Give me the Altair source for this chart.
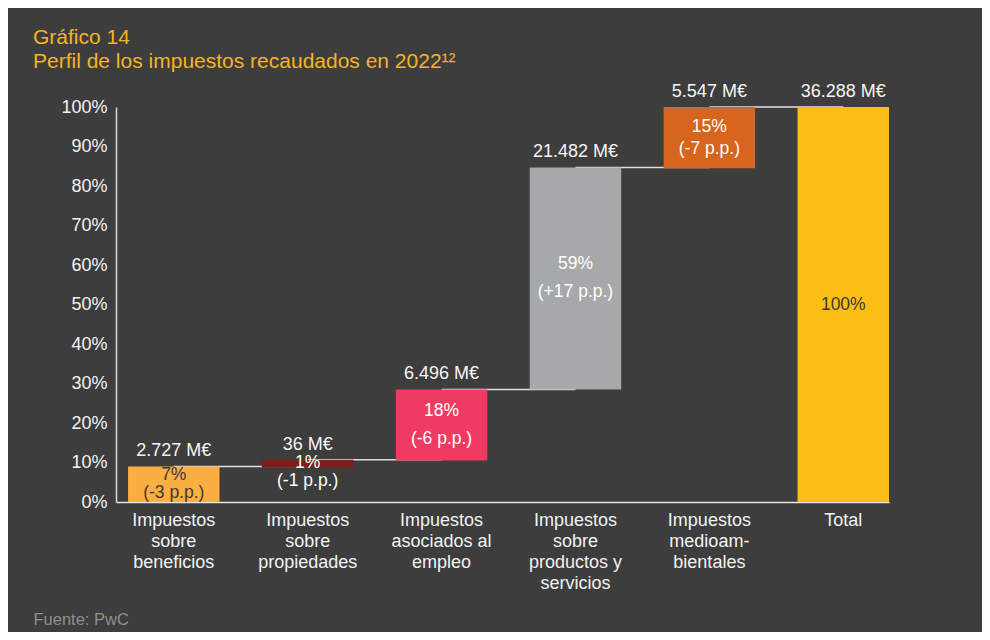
import altair as alt
import pandas as pd

# ---- data ----
categories = [
    "Impuestos|sobre|beneficios",
    "Impuestos|sobre|propiedades",
    "Impuestos|asociados al|empleo",
    "Impuestos|sobre|productos y|servicios",
    "Impuestos|medioam-|bientales",
    "Total",
]
bar_start = [0, 8.7, 10.5, 28.5, 84.5, 0]
bar_end = [9.0, 10.7, 28.5, 84.7, 100, 100]
amounts = ["2.727 M€", "36 M€", "6.496 M€", "21.482 M€", "5.547 M€", "36.288 M€"]
shares = ["7%", "1%", "18%", "59%", "15%", "100%"]
changes = ["(-3 p.p.)", "(-1 p.p.)", "(-6 p.p.)", "(+17 p.p.)", "(-7  p.p.)", ""]
y_ticks = [0, 10, 20, 30, 40, 50, 60, 70, 80, 90, 100]

palette = ["#fbae42", "#7e1f1b", "#ef3b62", "#a7a8aa", "#d8651d", "#fdbe16"]
BG = "#3d3d3d"
FONT = "Liberation Sans"
PLOT_H = 395
PX_PER_UNIT = PLOT_H / 100

df = pd.DataFrame({
    "cat": categories,
    "start": bar_start,
    "end": bar_end,
    "amount": amounts,
    "share": shares,
    "change": changes,
})

conn = pd.DataFrame({
    "cat": categories[:-1],
    "next": categories[1:],
    "level": bar_end[:-1],
})

xsc = alt.Scale(domain=categories, paddingInner=0.317, paddingOuter=0.045, align=1)
ysc = alt.Scale(domain=[0, 100], nice=False)

x_axis = alt.Axis(
    title="Fuente: PwC", titleX=-83, titleY=117, titleAlign="left",
    titleBaseline="middle", titleColor="#8f8f8f", titleFontSize=16.5,
    titleFontWeight="normal", titleFont=FONT,
    labelExpr="split(datum.label, '|')", labelAngle=0, ticks=False,
    labelPadding=9, labelLineHeight=21, labelFontSize=18, labelFont=FONT,
    labelColor="#f2f2f2", domainColor="#e6e6e6", domainWidth=1.5,
    labelBaseline="top", labelAlign="center",
)
y_axis = alt.Axis(
    values=y_ticks, labelExpr="datum.value + '%'",
    ticks=False, grid=False, title=None, labelPadding=9,
    labelFontSize=18, labelFont=FONT, labelColor="#f2f2f2",
    domainColor="#d9d9d9", domainWidth=1.5, labelOverlap=False,
    labelFlush=False,
)


def xenc():
    return alt.X("cat:N", scale=xsc, sort=categories, axis=x_axis)


def yenc(field):
    return alt.Y(field, scale=ysc, axis=y_axis)


rules = alt.Chart(conn).mark_rule(color="#e0e0e0", strokeWidth=1.5).encode(
    x=xenc(),
    x2="next:N",
    y=yenc("level:Q"),
)

bars = alt.Chart(df).mark_bar().encode(
    x=xenc(),
    y=yenc("start:Q"),
    y2="end:Q",
    color=alt.Color("cat:N", scale=alt.Scale(domain=categories, range=palette), legend=None),
)

amount_txt = alt.Chart(df).mark_text(
    baseline="middle", dy=-15, fontSize=18, font=FONT, color="#f5f5f5"
).encode(
    x=xenc(),
    y=yenc("end:Q"),
    text="amount:N",
)

inner = alt.Chart(df).transform_calculate(
    h="datum.end - datum.start",
).transform_calculate(
    mid="datum.h < 3 ? datum.start - 1.2 : (datum.start + datum.end) / 2",
    gap="datum.change == '' ? 0 : (datum.h < 10 ? 18 : (datum.h < 16 ? 22 : 28))",
).transform_calculate(
    share_y=f"datum.mid + datum.gap / 2 / {PX_PER_UNIT}",
    change_y=f"datum.mid - datum.gap / 2 / {PX_PER_UNIT}",
)

dark_text = alt.FieldOneOfPredicate(field="cat", oneOf=[categories[0], categories[-1]])

share_txt = inner.mark_text(baseline="middle", fontSize=17.5, font=FONT).encode(
    x=xenc(),
    y=yenc("share_y:Q"),
    text="share:N",
    color=alt.condition(dark_text, alt.value("#3a3a3a"), alt.value("#ffffff")),
)

change_txt = inner.mark_text(baseline="middle", fontSize=17.5, font=FONT).encode(
    x=xenc(),
    y=yenc("change_y:Q"),
    text="change:N",
    color=alt.condition(dark_text, alt.value("#3a3a3a"), alt.value("#ffffff")),
)

chart = alt.layer(rules, bars, amount_txt, share_txt, change_txt).properties(
    width=773,
    height=PLOT_H,
    autosize="none",
    padding={"left": 108, "top": 99, "right": 93, "bottom": 130},
    background=BG,
    title=alt.Title(
        ["Gráfico 14", "Perfil de los impuestos recaudados en 2022¹²"],
        anchor="start", frame="group", dx=-83, dy=-7,
        fontSize=21, lineHeight=24, color="#f5b41e", font=FONT,
        fontWeight="normal",
    ),
).configure_view(stroke=None)

chart.save("out.html", embed_options={"renderer": "svg", "actions": False})
